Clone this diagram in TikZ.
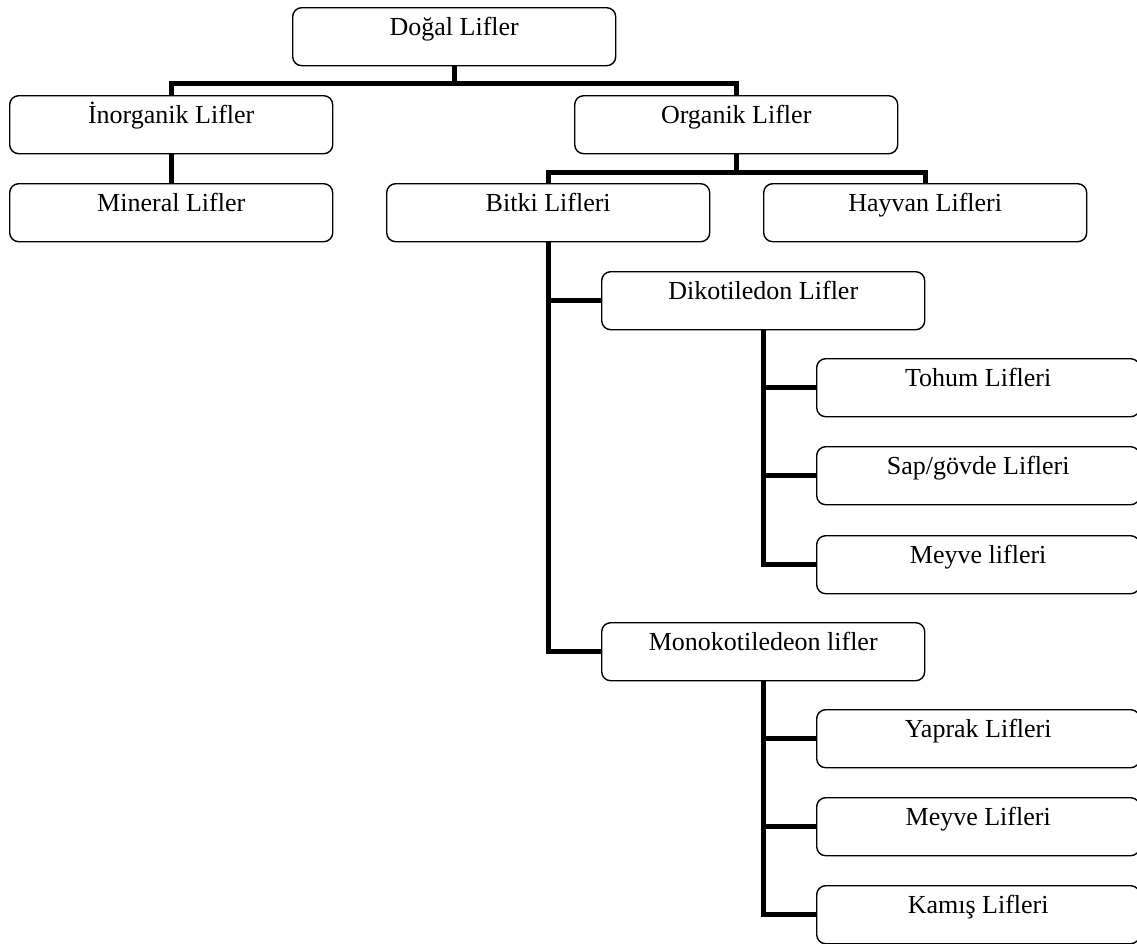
\documentclass[tikz,border=0pt]{standalone}
\usepackage{fontspec}
\setmainfont{Liberation Serif}

\begin{document}
\begin{tikzpicture}[x=1pt,y=-1pt,
  kutu/.style={draw,rounded corners=9pt,line width=1.4pt,anchor=north west,
    minimum width=323pt,inner sep=0pt,text height=28pt,text depth=30pt,
    font=\fontsize{26}{30}\selectfont},
  bag/.style={line width=5pt}]
\useasboundingbox (0,0) rectangle (1137,943);

\node[kutu] (dogal) at (292,7) {Doğal Lifler};

\node[kutu] (inorg) at (9,95) {İnorganik Lifler};
\node[kutu] (organik) at (574,95) {Organik Lifler};

\node[kutu] (mineral) at (9,183) {Mineral Lifler};
\node[kutu] (bitki) at (386,183) {Bitki Lifleri};
\node[kutu] (hayvan) at (763,183) {Hayvan Lifleri};

\node[kutu] (dikot) at (601,271) {Dikotiledon Lifler};
\node[kutu] (tohum) at (816,358) {Tohum Lifleri};
\node[kutu] (sap) at (816,446) {Sap/gövde Lifleri};
\node[kutu] (meyvea) at (816,535) {Meyve lifleri};

\node[kutu] (mono) at (601,622) {Monokotiledeon lifler};
\node[kutu] (yaprak) at (816,709) {Yaprak Lifleri};
\node[kutu] (meyveb) at (816,797) {Meyve Lifleri};
\node[kutu] (kamis) at (816,885) {Kamış Lifleri};

\draw[bag] (dogal.south) -- ++(0,17) -| (inorg.north);
\draw[bag] (dogal.south) -- ++(0,17) -| (organik.north);
\draw[bag] (inorg.south) -- (mineral.north);

\draw[bag] (organik.south) -- ++(0,18) -| (bitki.north);
\draw[bag] (organik.south) -- ++(0,18) -| (hayvan.north);

\draw[bag] (bitki.south) |- (dikot.west);
\draw[bag] (bitki.south) |- (mono.west);

\draw[bag] (dikot.south) |- (tohum.west);
\draw[bag] (dikot.south) |- (sap.west);
\draw[bag] (dikot.south) |- (meyvea.west);

\draw[bag] (mono.south) |- (yaprak.west);
\draw[bag] (mono.south) |- (meyveb.west);
\draw[bag] (mono.south) |- (kamis.west);

\end{tikzpicture}
\end{document}
